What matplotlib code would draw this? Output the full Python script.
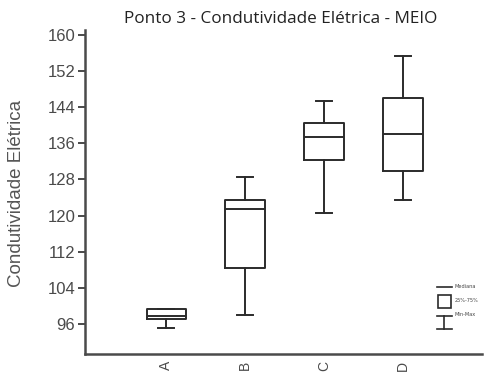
import matplotlib
matplotlib.use("Agg")
import matplotlib.pyplot as plt
from matplotlib.lines import Line2D
from matplotlib.patches import Rectangle

# Box-plot summary for each sampling point
categories = ["A", "B", "C", "D"]
minimum = [95.1, 98.0, 120.6, 123.4]
q1 = [97.1, 108.4, 132.3, 129.8]
median = [97.8, 121.4, 137.3, 138.0]
q3 = [99.3, 123.4, 140.4, 146.0]
maximum = [99.3, 128.5, 145.3, 155.3]
yticks = [96, 104, 112, 120, 128, 136, 144, 152, 160]

title = "Ponto 3 - Condutividade Elétrica - MEIO"
ylabel = "Condutividade Elétrica"

W, H = 499, 373
fig = plt.figure(figsize=(W / 100, H / 100), dpi=100)
ax = fig.add_axes([85 / W, 19 / H, 397 / W, 324 / H])

ink = "#2b2b2b"
txt = "#4a4a4a"
stats = []
for c, lo, a, m, b, hi in zip(categories, minimum, q1, median, q3, maximum):
    stats.append(dict(label=c, whislo=lo, q1=a, med=m, q3=b, whishi=hi, fliers=[]))

positions = range(1, len(categories) + 1)
ax.bxp(stats, positions=positions, widths=0.5, capwidths=0.2, showfliers=False,
       boxprops=dict(color=ink, linewidth=1.4),
       medianprops=dict(color=ink, linewidth=1.4),
       whiskerprops=dict(color=ink, linewidth=1.4),
       capprops=dict(color=ink, linewidth=1.4))

ax.set_xlim(-0.03, 5.0)
ax.set_ylim(89.4, 161.0)
ax.set_yticks(yticks)
ax.set_yticklabels([str(v) for v in yticks], fontsize=12, color=txt,
                   family="Liberation Sans")
ax.set_xticks(list(positions))
ax.set_xticklabels(categories, rotation=90, fontsize=10, color=txt,
                   family="Liberation Sans", va="top")
ax.tick_params(axis="x", length=0, pad=5)
ax.tick_params(axis="y", length=5, width=1.4, color="#4a4a4a", pad=2)
for s in ["top", "right"]:
    ax.spines[s].set_visible(False)
for s in ["left", "bottom"]:
    ax.spines[s].set_color("#4a4a4a")
    ax.spines[s].set_linewidth(1.8)

ax.set_ylabel(ylabel, fontsize=13.5, color="#555555", family="Liberation Sans")
ax.yaxis.set_label_coords(-60 / 397, 0.5 - 1 / 324)
fig.text(281 / W, 1 - 19 / H, title, ha="center", va="center", fontsize=12.3,
         color="#222222", family="Open Sans")

# Small key in the lower right corner
ov = fig.add_axes([0, 0, 1, 1])
ov.set_xlim(0, W)
ov.set_ylim(H, 0)
ov.axis("off")
ov.add_line(Line2D([437, 452], [287, 287], color=ink, lw=1.2))
ov.add_patch(Rectangle((438, 295), 13, 13, fill=False, edgecolor=ink, lw=1.2))
ov.add_line(Line2D([437, 452], [316, 316], color=ink, lw=1.2))
ov.add_line(Line2D([437, 452], [329, 329], color=ink, lw=1.2))
ov.add_line(Line2D([444.5, 444.5], [316, 329], color=ink, lw=1.2))
ov.text(455, 286, "Mediana", fontsize=3.6, color="#444444", va="center")
ov.text(455, 301, "25%-75%", fontsize=3.6, color="#444444", va="center")
ov.text(455, 315, "Min-Max", fontsize=3.6, color="#444444", va="center")

fig.savefig("out.png", dpi=100)
